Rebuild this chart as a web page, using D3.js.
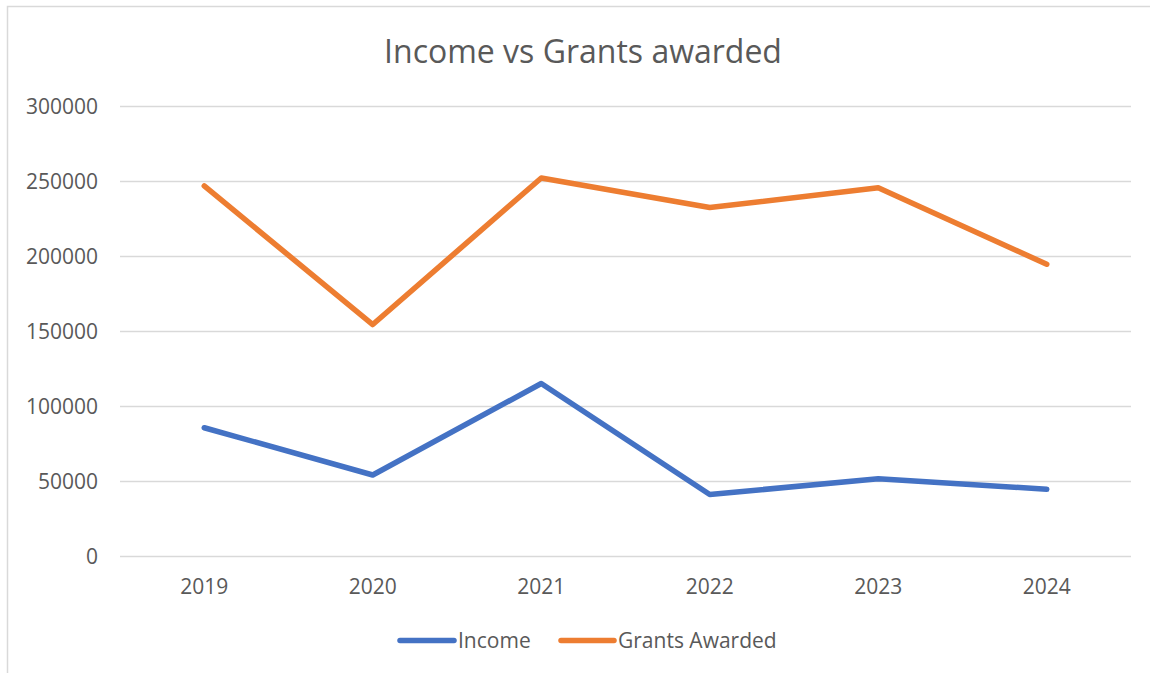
<!DOCTYPE html>
<html>
<head>
<meta charset="utf-8">
<script src="https://cdn.jsdelivr.net/npm/d3@7/dist/d3.min.js"></script>
<style>
  html, body { margin: 0; padding: 0; background: #fff; }
  svg { display: block; }
  text { font-family: "Open Sans", "Liberation Sans", sans-serif; fill: #595959; }
</style>
</head>
<body>
<svg id="chart" width="1150" height="673"></svg>
<script>
// Yearly figures
const years = ["2019", "2020", "2021", "2022", "2023", "2024"];
const income = [85500, 54000, 115000, 41000, 51500, 44500];
const grantsAwarded = [246700, 154300, 252000, 232300, 245500, 194500];
const yTicks = [0, 50000, 100000, 150000, 200000, 250000, 300000];
const seriesNames = ["Income", "Grants Awarded"];
const seriesColors = ["#4472C4", "#ED7D31"];

const series = [
  { name: seriesNames[0], color: seriesColors[0], values: income },
  { name: seriesNames[1], color: seriesColors[1], values: grantsAwarded }
];

const svg = d3.select("#chart");
const W = 1150, H = 673;
const plot = { left: 120, right: 1131, top: 106, bottom: 556 };

// chart frame
svg.append("rect")
  .attr("x", 7.5).attr("y", 6.5)
  .attr("width", W + 10).attr("height", H + 10)
  .attr("fill", "#fff")
  .attr("stroke", "#D9D9D9").attr("stroke-width", 1.5);

const x = d3.scaleBand().domain(years).range([plot.left, plot.right]).padding(0);
const y = d3.scaleLinear().domain([0, 300000]).range([plot.bottom, plot.top]);

// title
svg.append("text")
  .attr("x", 583).attr("y", 63)
  .attr("text-anchor", "middle")
  .style("font-size", "32px")
  .text("Income vs Grants awarded");

// horizontal gridlines + y labels
const yAxis = d3.axisLeft(y).tickValues(yTicks).tickSize(-(plot.right - plot.left)).tickPadding(22).tickFormat(d3.format("d"));
const gy = svg.append("g").attr("transform", `translate(${plot.left},0)`).call(yAxis);
gy.select(".domain").remove();
gy.selectAll(".tick line").attr("stroke", "#D9D9D9").attr("stroke-width", 1.5);
gy.selectAll(".tick text").style("font-size", "21px").attr("fill", "#595959").attr("dy", "0.35em");

// x labels
const xAxis = d3.axisBottom(x).tickSize(0).tickPadding(23);
const gx = svg.append("g").attr("transform", `translate(0,${plot.bottom})`).call(xAxis);
gx.select(".domain").remove();
gx.selectAll(".tick text").style("font-size", "21px").attr("fill", "#595959");

// series lines
const line = d3.line()
  .x((d, i) => x(years[i]) + x.bandwidth() / 2)
  .y(d => y(d));

svg.append("g").selectAll("path")
  .data(series)
  .join("path")
  .attr("d", d => line(d.values))
  .attr("fill", "none")
  .attr("stroke", d => d.color)
  .attr("stroke-width", 5.5)
  .attr("stroke-linejoin", "round")
  .attr("stroke-linecap", "round");

// legend
const legendItems = [
  { x1: 400, x2: 454, tx: 458 },
  { x1: 561, x2: 614, tx: 618 }
];
const lg = svg.append("g");
series.forEach((s, i) => {
  const it = legendItems[i];
  lg.append("line")
    .attr("x1", it.x1).attr("x2", it.x2)
    .attr("y1", 640.5).attr("y2", 640.5)
    .attr("stroke", s.color).attr("stroke-width", 5.5)
    .attr("stroke-linecap", "round");
  lg.append("text")
    .attr("x", it.tx).attr("y", 647.5)
    .style("font-size", "21px")
    .text(s.name);
});
</script>
</body>
</html>
